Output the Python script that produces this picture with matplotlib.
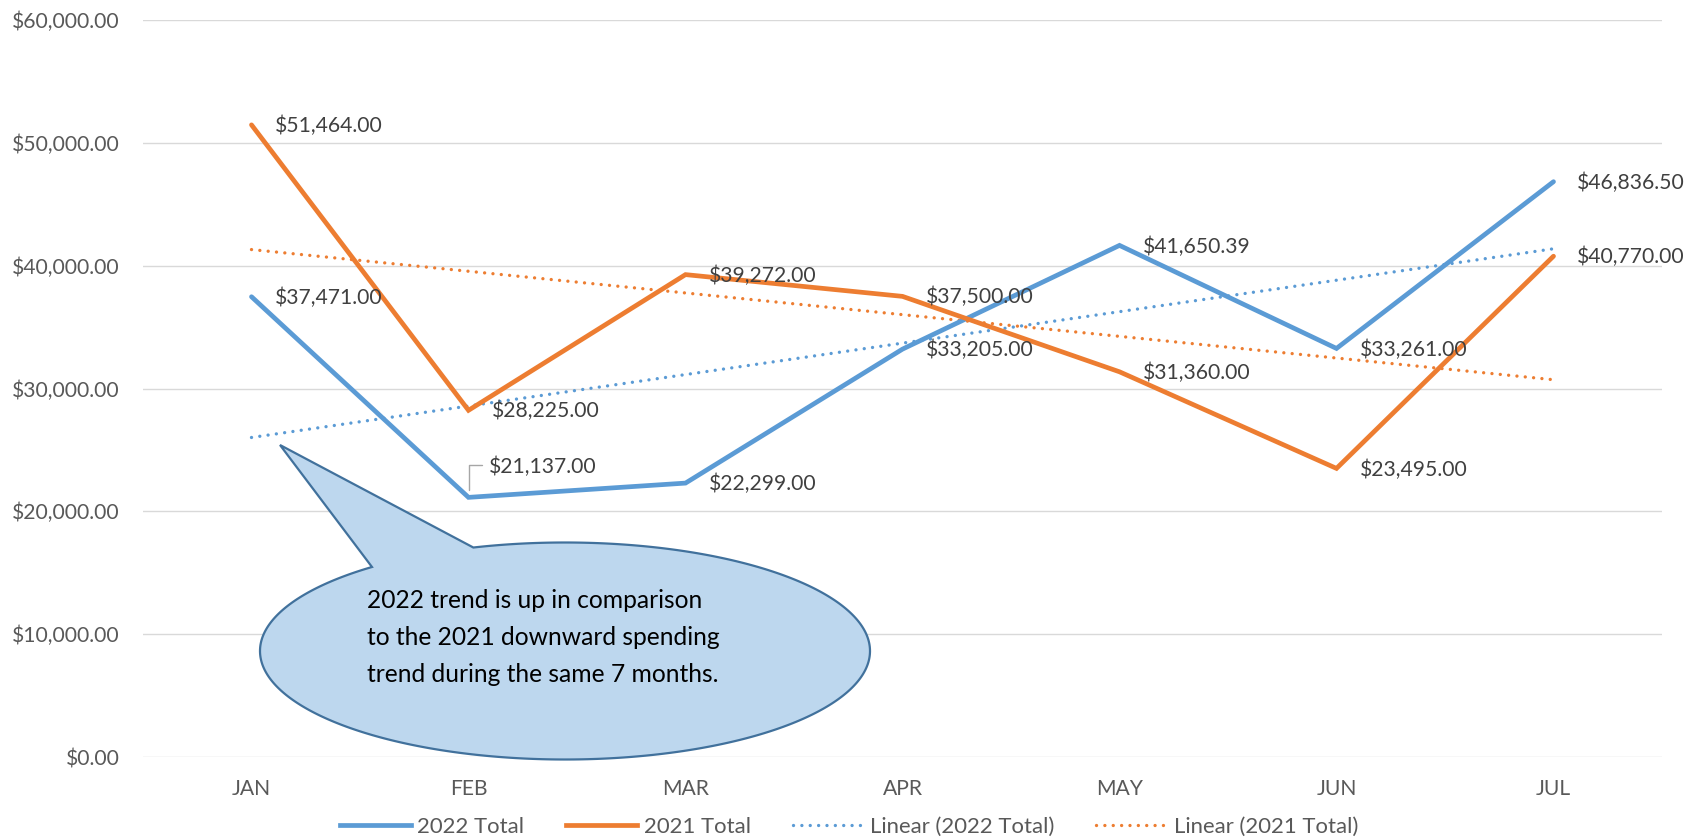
import numpy as np
import matplotlib
matplotlib.use("Agg")
import matplotlib.pyplot as plt
from matplotlib.lines import Line2D
from matplotlib.patches import Polygon
from matplotlib.ticker import FuncFormatter

# ---- data ----
months = ["JAN", "FEB", "MAR", "APR", "MAY", "JUN", "JUL"]
total_2022 = [37471.00, 21137.00, 22299.00, 33205.00, 41650.39, 33261.00, 46836.50]
total_2021 = [51464.00, 28225.00, 39272.00, 37500.00, 31360.00, 23495.00, 40770.00]
y_ticks = [0, 10000, 20000, 30000, 40000, 50000, 60000]
callout_lines = ["2022 trend is up in comparison",
                 "to the 2021 downward spending",
                 "trend during the same 7 months."]

BLUE = "#5B9BD5"
ORANGE = "#ED7D31"
FONT = "Lato"
FS = 15.2

W, H = 1702, 839
fig = plt.figure(figsize=(W / 100, H / 100), dpi=100)
ax = fig.add_axes([143 / W, (H - 757) / H, (1662 - 143) / W, (757 - 20) / H])

x = np.arange(len(months))

# trend lines (least squares, as Excel linear trendline)
fit22 = np.polyfit(x, total_2022, 1)
fit21 = np.polyfit(x, total_2021, 1)
trend22 = np.polyval(fit22, x)
trend21 = np.polyval(fit21, x)

dot = (0, (0.01, 2.5))
DLW = 2.4
ax.plot(x, total_2022, color=BLUE, lw=3.4, solid_joinstyle="miter", solid_capstyle="round", zorder=4)
ax.plot(x, total_2021, color=ORANGE, lw=3.4, solid_joinstyle="miter", solid_capstyle="round", zorder=4)
ax.plot(x, trend22, color=BLUE, lw=DLW, linestyle=dot, dash_capstyle="round", zorder=3)
ax.plot(x, trend21, color=ORANGE, lw=DLW, linestyle=dot, dash_capstyle="round", zorder=3)

ax.set_xlim(-0.5, len(months) - 0.5)
ax.set_ylim(0, 60000)
ax.set_yticks(y_ticks)
ax.yaxis.set_major_formatter(FuncFormatter(lambda v, p: f"${v:,.2f}"))
ax.set_xticks(x)
ax.set_xticklabels(months)
ax.grid(axis="y", color="#D9D9D9", lw=1.0, zorder=0)
ax.set_axisbelow(True)
for s in ax.spines.values():
    s.set_visible(False)
ax.tick_params(axis="both", length=0, labelsize=FS, labelcolor="#595959")
ax.tick_params(axis="y", pad=17)
ax.tick_params(axis="x", pad=16)
for lab in ax.get_xticklabels() + ax.get_yticklabels():
    lab.set_fontfamily(FONT)

# data labels
def fmt(v):
    return f"${v:,.2f}"

for i, v in enumerate(total_2021):
    ax.annotate(fmt(v), (x[i], v), xytext=(23, -1), textcoords="offset pixels",
                ha="left", va="center", fontsize=FS, color="#404040",
                fontfamily=FONT, zorder=6)
for i, v in enumerate(total_2022):
    if i == 1:
        ax.annotate(fmt(v), (x[i], v), xytext=(20, 30), textcoords="offset pixels",
                    ha="left", va="center", fontsize=FS, color="#404040",
                    fontfamily=FONT, zorder=6)
        # leader line
        ax.annotate("", xy=(x[i], v), xytext=(13, 32), textcoords="offset pixels",
                    arrowprops=dict(arrowstyle="-", color="#A6A6A6", lw=1.0,
                                    connectionstyle="angle,angleA=0,angleB=90,rad=0",
                                    shrinkA=0, shrinkB=5))
    else:
        ax.annotate(fmt(v), (x[i], v), xytext=(23, -1), textcoords="offset pixels",
                    ha="left", va="center", fontsize=FS, color="#404040",
                    fontfamily=FONT, zorder=6)

# callout (oval with tail), in figure pixel coords (y down)
cx, cy, a, b = 565, 651, 305, 108.5
tip = (280, 445)
base_l = (372, 567)
base_r = (472, 546)

def ang(p):
    return np.arctan2((cy - p[1]) / b, (p[0] - cx) / a)

a_l = ang(base_l)
a_r = ang(base_r)
ts = np.linspace(a_l, a_r + 2 * np.pi, 400)
pts = [(cx + a * np.cos(t), cy - b * np.sin(t)) for t in ts]
pts.append(tip)
pts_fig = [(px / W, (H - py) / H) for px, py in pts]
poly = Polygon(pts_fig, closed=True, transform=fig.transFigure,
               facecolor="#BDD7EE", edgecolor="#41719C", lw=1.6, zorder=10)
fig.patches.append(poly)

for k, line in enumerate(callout_lines):
    fig.text(367 / W, (H - (601 + 36.5 * k)) / H, line, ha="left", va="center",
             fontsize=17.7, color="black", fontfamily=FONT, zorder=11)

# legend
handles = [
    Line2D([], [], color=BLUE, lw=3.4),
    Line2D([], [], color=ORANGE, lw=3.4),
    Line2D([], [], color=BLUE, lw=DLW, linestyle=dot, dash_capstyle="round"),
    Line2D([], [], color=ORANGE, lw=DLW, linestyle=dot, dash_capstyle="round"),
]
labels = ["2022 Total", "2021 Total", "Linear (2022 Total)", "Linear (2021 Total)"]
leg = fig.legend(handles, labels, loc="center", bbox_to_anchor=(849 / W, (H - 827) / H),
                 ncol=4, frameon=False, handlelength=3.2, handletextpad=0.3,
                 columnspacing=1.9, borderpad=0,
                 prop={"family": FONT, "size": 15.9})
for t in leg.get_texts():
    t.set_color("#595959")

fig.savefig("out.png", dpi=100)
